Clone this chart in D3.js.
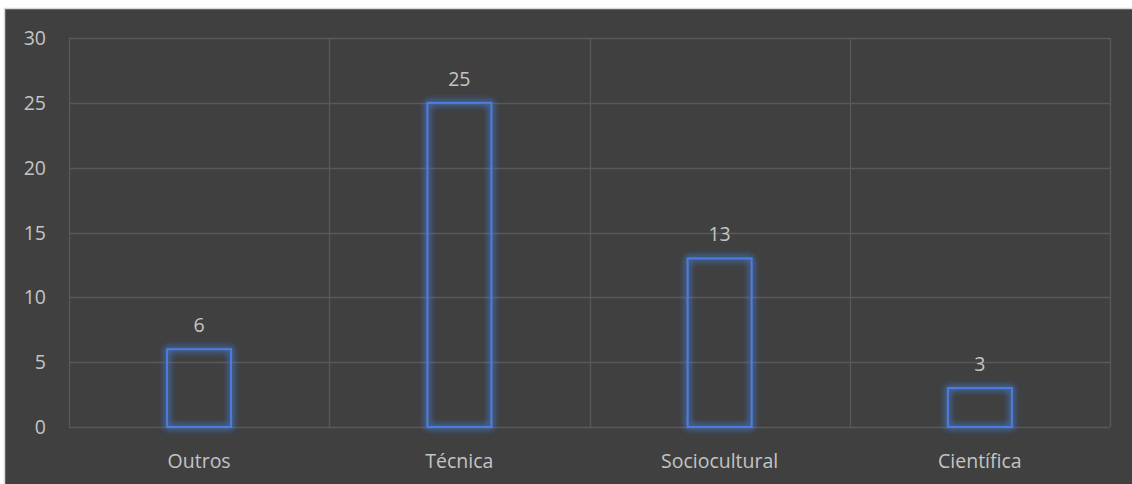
<!DOCTYPE html>
<html><head><meta charset="utf-8">
<script src="https://cdn.jsdelivr.net/npm/d3@7"></script>
<style>
html,body{margin:0;padding:0;background:#fff;}
svg{display:block;}
</style></head>
<body>
<svg id="chart" width="1132" height="484"></svg>
<script>
const categories = ["Outros", "Técnica", "Sociocultural", "Científica"];
const values = [6, 25, 13, 3];
const yTicks = [0, 5, 10, 15, 20, 25, 30];

const W = 1132, H = 484;
const svg = d3.select("#chart");
const m = {left: 69, right: 22, top: 38, bottom: 57};
const iw = W - m.left - m.right, ih = H - m.top - m.bottom;
const FONT = "'Open Sans', 'Noto Sans', sans-serif";
const FS = 19.5;
const TXT = "#c4c4c4";

const defs = svg.append("defs");
const f = defs.append("filter").attr("id","glow").attr("x","-30%").attr("y","-30%").attr("width","160%").attr("height","160%");
f.append("feGaussianBlur").attr("in","SourceGraphic").attr("stdDeviation","3.5").attr("result","b");
const mg = f.append("feMerge");
mg.append("feMergeNode").attr("in","b");
mg.append("feMergeNode").attr("in","b");
mg.append("feMergeNode").attr("in","SourceGraphic");

// outer frame
svg.append("rect").attr("x",0).attr("y",0).attr("width",W).attr("height",H).attr("fill","#fff");
svg.append("rect").attr("x",4.5).attr("y",8.5).attr("width",W).attr("height",H).attr("fill","#404040").attr("stroke","#d9d9d9").attr("stroke-width",1.5);

const g = svg.append("g").attr("transform",`translate(${m.left},${m.top})`);
const x = d3.scaleBand().domain(categories).range([0, iw]).paddingInner(0).paddingOuter(0);
const y = d3.scaleLinear().domain([0, 30]).range([ih, 0]);

// horizontal gridlines
g.selectAll(".hg").data(yTicks).join("line")
  .attr("x1",0).attr("x2",iw)
  .attr("y1",d=>Math.round(y(d))+0.5).attr("y2",d=>Math.round(y(d))+0.5)
  .attr("stroke","#595959").attr("stroke-width",1.3);
// vertical gridlines (category boundaries)
const bounds = categories.map(c=>x(c)).concat([iw]);
g.selectAll(".vg").data(bounds).join("line")
  .attr("x1",d=>Math.round(d)+0.5).attr("x2",d=>Math.round(d)+0.5)
  .attr("y1",0).attr("y2",ih)
  .attr("stroke","#595959").attr("stroke-width",1.3);

// y tick labels
g.selectAll(".yl").data(yTicks).join("text")
  .attr("x",-23).attr("y",d=>y(d)).attr("dy","0.36em")
  .attr("text-anchor","end")
  .attr("font-family",FONT).attr("font-size",FS)
  .attr("fill",TXT).text(d=>d);

// bars
const bw = 64;
g.selectAll(".bar").data(values).join("rect")
  .attr("x",(d,i)=>x(categories[i]) + x.bandwidth()/2 - bw/2)
  .attr("y",d=>y(d))
  .attr("width",bw).attr("height",d=>ih - y(d))
  .attr("fill","none").attr("stroke","#4a7fe0").attr("stroke-width",2)
  .attr("filter","url(#glow)");

// value labels
g.selectAll(".vl").data(values).join("text")
  .attr("x",(d,i)=>x(categories[i]) + x.bandwidth()/2)
  .attr("y",d=>y(d) - 17)
  .attr("text-anchor","middle")
  .attr("font-family",FONT).attr("font-size",FS)
  .attr("fill",TXT).text(d=>d);

// category labels
g.selectAll(".cl").data(categories).join("text")
  .attr("x",d=>x(d) + x.bandwidth()/2)
  .attr("y",ih + 41)
  .attr("text-anchor","middle")
  .attr("font-family",FONT).attr("font-size",FS)
  .attr("fill",TXT).text(d=>d);
</script>
</body></html>
